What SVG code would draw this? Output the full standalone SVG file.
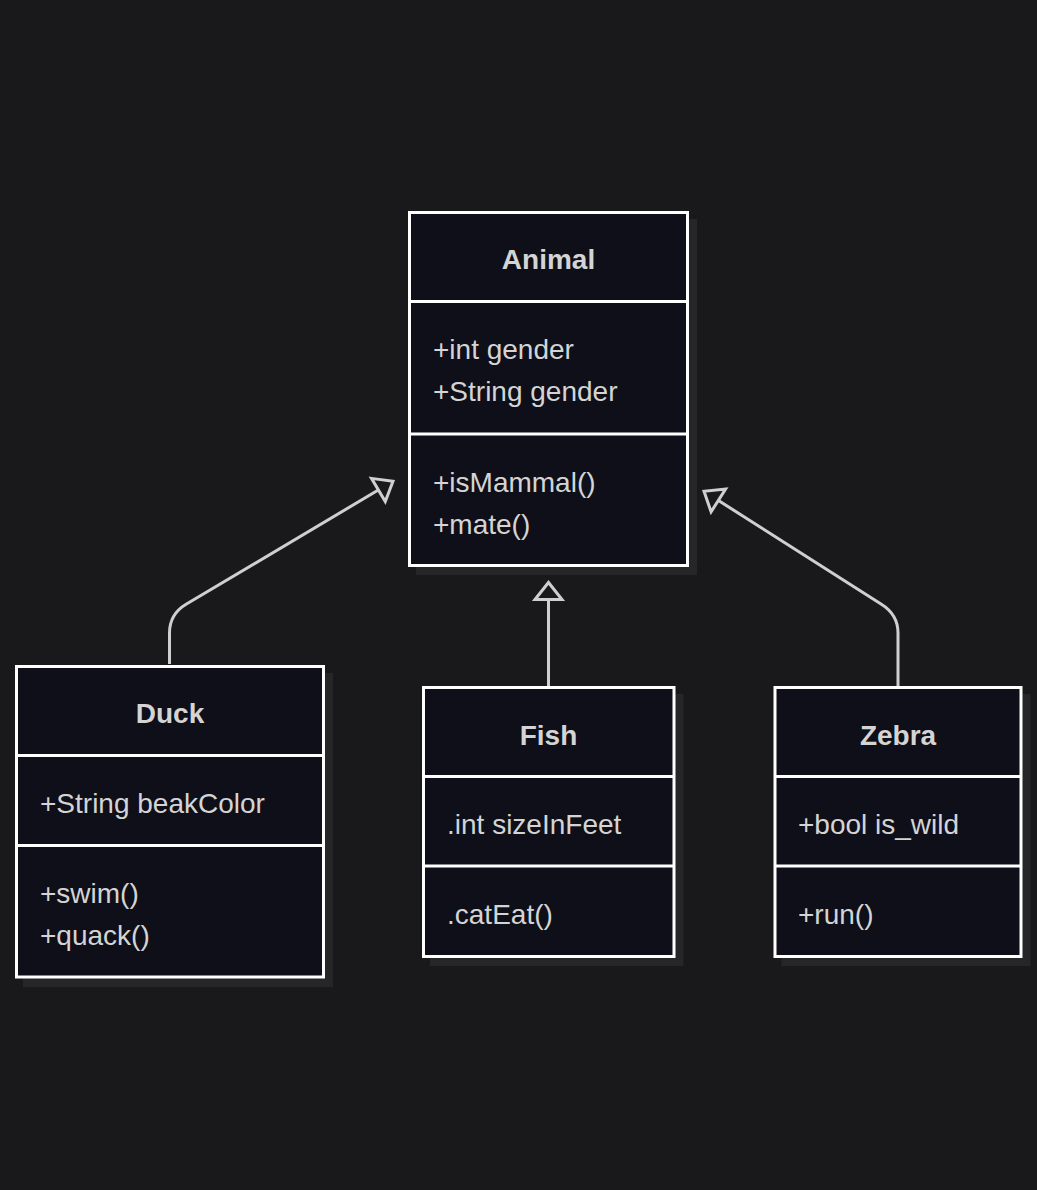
<svg xmlns="http://www.w3.org/2000/svg" width="1037" height="1190" viewBox="0 0 1037 1190">
  <defs>
    <marker id="ext" markerUnits="userSpaceOnUse" markerWidth="40" markerHeight="40" refX="17" refY="0" viewBox="-5 -20 30 40" orient="auto" overflow="visible">
      <path d="M0,-13.5 L17,0 L0,13.5 Z" fill="#19191b" stroke="#cfcfcf" stroke-width="3" stroke-linejoin="miter"/>
    </marker>
  </defs>
  <style>
    .shadow { fill: #262628; }
    .box { fill: #0e0f18; stroke: #ffffff; stroke-width: 3; }
    .div { stroke: #ffffff; stroke-width: 3; }
    .title { font-family: "Liberation Sans", Arial, sans-serif; font-size: 28px; font-weight: bold; fill: #d4d4d4; text-anchor: middle; }
    .mem { font-family: "Liberation Sans", Arial, sans-serif; font-size: 28px; fill: #d4d4d4; }
    .edge { fill: none; stroke: #cfcfcf; stroke-width: 3; marker-end: url(#ext); }
  </style>
  <rect x="0" y="0" width="1037" height="1190" fill="#19191b"/>

  <g id="connectors">
    <path class="edge" d="M169.5,664 L169.5,633 Q169.5,614 186.5,604 L393,481.3"/>
    <path class="edge" d="M548.5,686 L548.5,582.5"/>
    <path class="edge" d="M898,686 L898,633 Q898,614.5 881,604 L704,491.3"/>
  </g>

  <g id="Animal">
    <rect class="shadow" x="416" y="219" width="281" height="356"/>
    <rect class="box" x="409.5" y="212.5" width="278" height="353"/>
    <line class="div" x1="409.5" y1="301.5" x2="687.5" y2="301.5"/>
    <line class="div" x1="409.5" y1="434" x2="687.5" y2="434"/>
    <text class="title" x="548.5" y="269">Animal</text>
    <text class="mem" x="433" y="359">+int gender</text>
    <text class="mem" x="433" y="401">+String gender</text>
    <text class="mem" x="433" y="492">+isMammal()</text>
    <text class="mem" x="433" y="534">+mate()</text>
  </g>

  <g id="Duck">
    <rect class="shadow" x="23" y="673" width="310" height="314"/>
    <rect class="box" x="16.5" y="666.5" width="307" height="310.5"/>
    <line class="div" x1="16.5" y1="755.5" x2="323.5" y2="755.5"/>
    <line class="div" x1="16.5" y1="845.5" x2="323.5" y2="845.5"/>
    <text class="title" x="170" y="723">Duck</text>
    <text class="mem" x="40" y="813">+String beakColor</text>
    <text class="mem" x="40" y="903">+swim()</text>
    <text class="mem" x="40" y="945">+quack()</text>
  </g>

  <g id="Fish">
    <rect class="shadow" x="430" y="694" width="253.5" height="272"/>
    <rect class="box" x="423.5" y="687.5" width="250.5" height="269"/>
    <line class="div" x1="423.5" y1="776.5" x2="674" y2="776.5"/>
    <line class="div" x1="423.5" y1="866" x2="674" y2="866"/>
    <text class="title" x="548.5" y="745">Fish</text>
    <text class="mem" x="447" y="834">.int sizeInFeet</text>
    <text class="mem" x="447" y="924">.catEat()</text>
  </g>

  <g id="Zebra">
    <rect class="shadow" x="781.5" y="694" width="249" height="272"/>
    <rect class="box" x="775" y="687.5" width="246" height="269"/>
    <line class="div" x1="775" y1="776.5" x2="1021" y2="776.5"/>
    <line class="div" x1="775" y1="866" x2="1021" y2="866"/>
    <text class="title" x="898" y="745">Zebra</text>
    <text class="mem" x="798" y="834">+bool is_wild</text>
    <text class="mem" x="798" y="924">+run()</text>
  </g>
</svg>
